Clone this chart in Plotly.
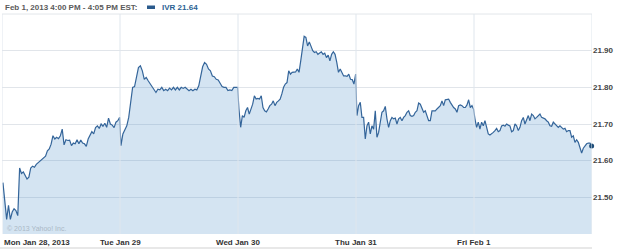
import numpy as np
import plotly.graph_objects as go

day_labels = ["Mon Jan 28, 2013", "Tue Jan 29", "Wed Jan 30", "Thu Jan 31", "Fri Feb 1"]
y_ticks = [21.50, 21.60, 21.70, 21.80, 21.90]
y_tick_text = ["21.50", "21.60", "21.70", "21.80", "21.90"]

mon = [21.54, 21.487, 21.44, 21.478, 21.44, 21.46, 21.469, 21.464, 21.45, 21.58, 21.565, 21.569,
       21.56, 21.55, 21.555, 21.58, 21.585, 21.582, 21.59, 21.594, 21.60, 21.603, 21.608, 21.612,
       21.627, 21.632, 21.645, 21.668, 21.659, 21.664, 21.66, 21.668, 21.686, 21.643, 21.657,
       21.655, 21.656, 21.641, 21.648, 21.646, 21.657, 21.646, 21.656, 21.648, 21.646, 21.639,
       21.659, 21.668, 21.679, 21.673, 21.69, 21.695, 21.688, 21.70, 21.694, 21.702, 21.691,
       21.716, 21.70, 21.697, 21.69, 21.705, 21.709, 21.718]
tue = [21.641, 21.673, 21.682, 21.695, 21.718, 21.754, 21.80, 21.802, 21.831, 21.854, 21.859,
       21.845, 21.822, 21.827, 21.818, 21.809, 21.804, 21.795, 21.786, 21.795, 21.793, 21.80,
       21.791, 21.795, 21.791, 21.798, 21.793, 21.80, 21.793, 21.80, 21.793, 21.80, 21.797,
       21.80, 21.794, 21.791, 21.795, 21.791, 21.795, 21.793, 21.804, 21.836, 21.856, 21.868,
       21.863, 21.85, 21.845, 21.831, 21.829, 21.822, 21.82, 21.811, 21.802, 21.80, 21.80,
       21.791, 21.793, 21.791, 21.80, 21.80, 21.80]
wed = [21.741, 21.691, 21.723, 21.718, 21.736, 21.745, 21.727, 21.741, 21.754, 21.777, 21.768,
       21.770, 21.768, 21.777, 21.745, 21.736, 21.733, 21.741, 21.75, 21.754, 21.763, 21.75,
       21.759, 21.763, 21.768, 21.782, 21.80, 21.809, 21.813, 21.845, 21.836, 21.841, 21.841,
       21.842, 21.85, 21.841, 21.872, 21.90, 21.939, 21.936, 21.913, 21.924, 21.909, 21.90,
       21.895, 21.897, 21.89, 21.895, 21.897, 21.89, 21.893, 21.881, 21.888, 21.872, 21.89,
       21.897, 21.89, 21.868, 21.841, 21.85, 21.841, 21.831, 21.831, 21.83, 21.836, 21.822,
       21.821, 21.809, 21.836]
thu = [21.723, 21.75, 21.759, 21.718, 21.718, 21.659, 21.695, 21.705, 21.673, 21.695, 21.686,
       21.736, 21.664, 21.677, 21.70, 21.732, 21.736, 21.748, 21.714, 21.691, 21.709, 21.718,
       21.714, 21.716, 21.70, 21.714, 21.718, 21.709, 21.718, 21.723, 21.732, 21.736, 21.723,
       21.721, 21.723, 21.732, 21.736, 21.757, 21.754, 21.741, 21.732, 21.736, 21.723, 21.709,
       21.709, 21.736, 21.736, 21.736, 21.741, 21.745, 21.75, 21.763, 21.75, 21.766, 21.768,
       21.768, 21.759, 21.75, 21.745, 21.741, 21.732, 21.75, 21.752, 21.75, 21.745, 21.745,
       21.752, 21.766, 21.745, 21.75, 21.74]
fri = [21.714, 21.691, 21.705, 21.686, 21.705, 21.695, 21.709, 21.686, 21.673, 21.670, 21.673,
       21.677, 21.682, 21.688, 21.679, 21.682, 21.695, 21.697, 21.694, 21.70, 21.697, 21.695,
       21.679, 21.682, 21.70, 21.695, 21.682, 21.691, 21.709, 21.718, 21.70, 21.714, 21.723,
       21.709, 21.727, 21.723, 21.714, 21.718, 21.723, 21.727, 21.718, 21.716, 21.714, 21.709,
       21.705, 21.695, 21.694, 21.705, 21.70, 21.697, 21.691, 21.695, 21.691, 21.686, 21.688,
       21.679, 21.682, 21.682, 21.664, 21.668, 21.65, 21.657, 21.65, 21.632, 21.621, 21.634,
       21.641, 21.646, 21.648, 21.648, 21.64]

days = [mon, tue, wed, thu, fri]
xs, ys = [], []
for d, vals in enumerate(days):
    xs.extend(np.linspace(d + 0.008, d + 0.997, len(vals)).tolist())
    ys.extend(vals)

W, H = 625, 249
ml, mr, mt, mb = 2, 33, 14, 15
pw = W - ml - mr
ph = H - mt - mb

def px(x):
    return (x - ml) / pw

def py(y):
    return (H - mb - y) / ph

FONT = "Liberation Sans, Arial, sans-serif"

fig = go.Figure()
fig.add_trace(go.Scatter(
    x=xs, y=ys, mode="lines",
    line=dict(color="#34659a", width=1.2),
    fill="tozeroy", fillcolor="rgba(70,140,200,0.23)",
    hoverinfo="skip", showlegend=False,
))
fig.add_trace(go.Scatter(
    x=[xs[-1]], y=[ys[-1]], mode="markers",
    marker=dict(color="#1f4e79", size=5),
    hoverinfo="skip", showlegend=False, cliponaxis=False,
))

shapes = []
for d in range(6):
    shapes.append(dict(type="line", xref="x", yref="paper", x0=d, x1=d, y0=0, y1=1,
                       line=dict(color="#dfe6ed", width=1), layer="above"))
shapes.append(dict(type="line", xref="paper", yref="paper", x0=0, x1=1, y0=1, y1=1,
                   line=dict(color="#e2e6ea", width=1), layer="above"))
shapes.append(dict(type="line", xref="paper", yref="paper", x0=px(0), x1=1, y0=py(248), y1=py(248),
                   line=dict(color="#e0e0e0", width=1.5)))
shapes.append(dict(type="rect", xref="paper", yref="paper", x0=px(147), x1=px(155),
                   y0=py(9), y1=py(5.5), fillcolor="#2a5a8c", line=dict(width=0)))

annotations = []
for d, lab in enumerate(day_labels):
    annotations.append(dict(
        x=d, y=py(242), xref="x", yref="paper", text="<b>%s</b>" % lab, showarrow=False,
        xanchor="left" if d == 0 else "center", yanchor="middle",
        font=dict(family=FONT, size=8, color="#333333"),
    ))
annotations.append(dict(
    x=px(3), y=py(8), xref="paper", yref="paper", xanchor="left", yanchor="middle",
    text="<b>Feb 1, 2013 4:00 PM - 4:05 PM EST:</b>", showarrow=False,
    font=dict(family=FONT, size=8, color="#5a5a5a"),
))
annotations.append(dict(
    x=px(160), y=py(8), xref="paper", yref="paper", xanchor="left", yanchor="middle",
    text="<b>IVR 21.64</b>", showarrow=False,
    font=dict(family=FONT, size=8, color="#2b5f93"),
))
annotations.append(dict(
    x=px(5), y=py(228), xref="paper", yref="paper", xanchor="left", yanchor="middle",
    text="© 2013 Yahoo! Inc.", showarrow=False,
    font=dict(family=FONT, size=7, color="#aab8c6"),
))

fig.update_layout(
    width=W, height=H,
    margin=dict(l=ml, r=mr, t=mt, b=mb, pad=0),
    paper_bgcolor="white", plot_bgcolor="white",
    shapes=shapes, annotations=annotations,
    xaxis=dict(range=[0, 5], showgrid=False, zeroline=False, showticklabels=False,
               showline=False, fixedrange=True),
    yaxis=dict(range=[21.40, 22.0], side="right", tickvals=y_ticks,
               ticktext=["<b>%s</b>" % t for t in y_tick_text],
               showgrid=True, gridcolor="#e1e5ea", gridwidth=1, zeroline=False, showline=False,
               ticks="", tickfont=dict(family=FONT, size=8, color="#444444"),
               fixedrange=True),
)

fig.write_html("out.html", config={"displayModeBar": False})
